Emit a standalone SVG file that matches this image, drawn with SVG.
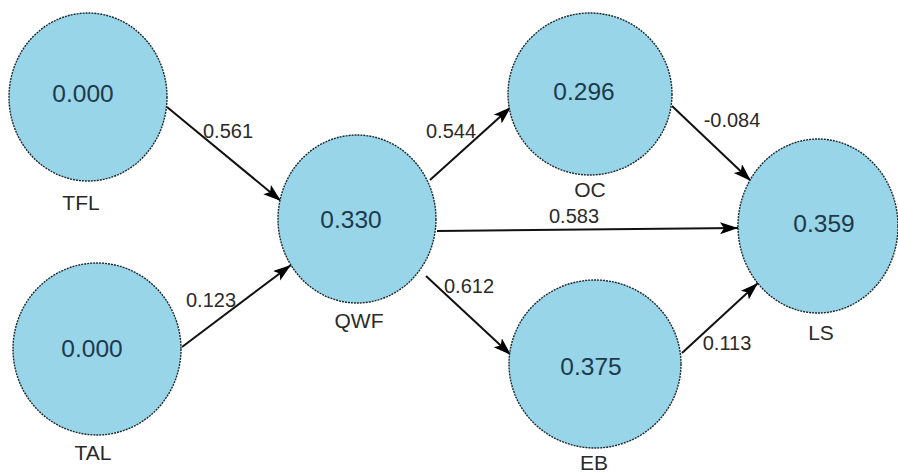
<svg xmlns="http://www.w3.org/2000/svg" width="898" height="473" viewBox="0 0 898 473">
<style>
.node{fill:#99d5e8;stroke:#1a2a30;stroke-width:1.4;stroke-dasharray:2 1}
.val{font-family:"Liberation Sans",Arial,sans-serif;font-size:24.5px;fill:#1d3a4c;text-anchor:middle}
.lbl{font-family:"Liberation Sans",Arial,sans-serif;font-size:21px;fill:#2a2a2a;text-anchor:middle}
.elbl{font-family:"Liberation Sans",Arial,sans-serif;font-size:20px;fill:#2a2a2a;text-anchor:middle}
.edge{stroke:#111;stroke-width:2;fill:none;marker-end:url(#ah)}
</style>
<defs>
<marker id="ah" markerUnits="userSpaceOnUse" markerWidth="20" markerHeight="14" refX="18" refY="6" orient="auto">
<path d="M0,0 L18,6 L0,12 L4,6 Z" fill="#000"/>
</marker>
</defs>
<rect width="898" height="473" fill="#fff"/>
<g id="connectors">
<line class="edge" x1="167" y1="107" x2="281" y2="201"/>
<line class="edge" x1="182" y1="347" x2="291" y2="265"/>
<line class="edge" x1="430" y1="180" x2="511" y2="107"/>
<line class="edge" x1="437" y1="231" x2="738" y2="228"/>
<line class="edge" x1="426" y1="276" x2="511" y2="355"/>
<line class="edge" x1="672" y1="106" x2="751" y2="181"/>
<line class="edge" x1="682" y1="353" x2="758" y2="283"/>
<text class="elbl" x="228" y="138">0.561</text>
<text class="elbl" x="211" y="307">0.123</text>
<text class="elbl" x="451" y="138">0.544</text>
<text class="elbl" x="574" y="223">0.583</text>
<text class="elbl" x="469" y="293">0.612</text>
<text class="elbl" x="732" y="127">-0.084</text>
<text class="elbl" x="727" y="350">0.113</text>
</g>
<g id="TFL">
<ellipse class="node" cx="88" cy="97" rx="79" ry="84"/>
<text class="val" x="83" y="102">0.000</text>
<text class="lbl" x="81" y="210">TFL</text>
</g>
<g id="TAL">
<ellipse class="node" cx="97" cy="349" rx="84" ry="86"/>
<text class="val" x="92" y="357">0.000</text>
<text class="lbl" x="93" y="460">TAL</text>
</g>
<g id="QWF">
<ellipse class="node" cx="357" cy="219" rx="79" ry="84"/>
<text class="val" x="351" y="228">0.330</text>
<text class="lbl" x="359" y="328">QWF</text>
</g>
<g id="OC">
<ellipse class="node" cx="590" cy="94" rx="82" ry="81"/>
<text class="val" x="584" y="100">0.296</text>
<text class="lbl" x="590" y="197">OC</text>
</g>
<g id="EB">
<ellipse class="node" cx="595" cy="364" rx="86" ry="84"/>
<text class="val" x="591" y="375">0.375</text>
<text class="lbl" x="594" y="470">EB</text>
</g>
<g id="LS">
<ellipse class="node" cx="818" cy="226" rx="80" ry="87"/>
<text class="val" x="824" y="232">0.359</text>
<text class="lbl" x="821" y="340">LS</text>
</g>
</svg>
